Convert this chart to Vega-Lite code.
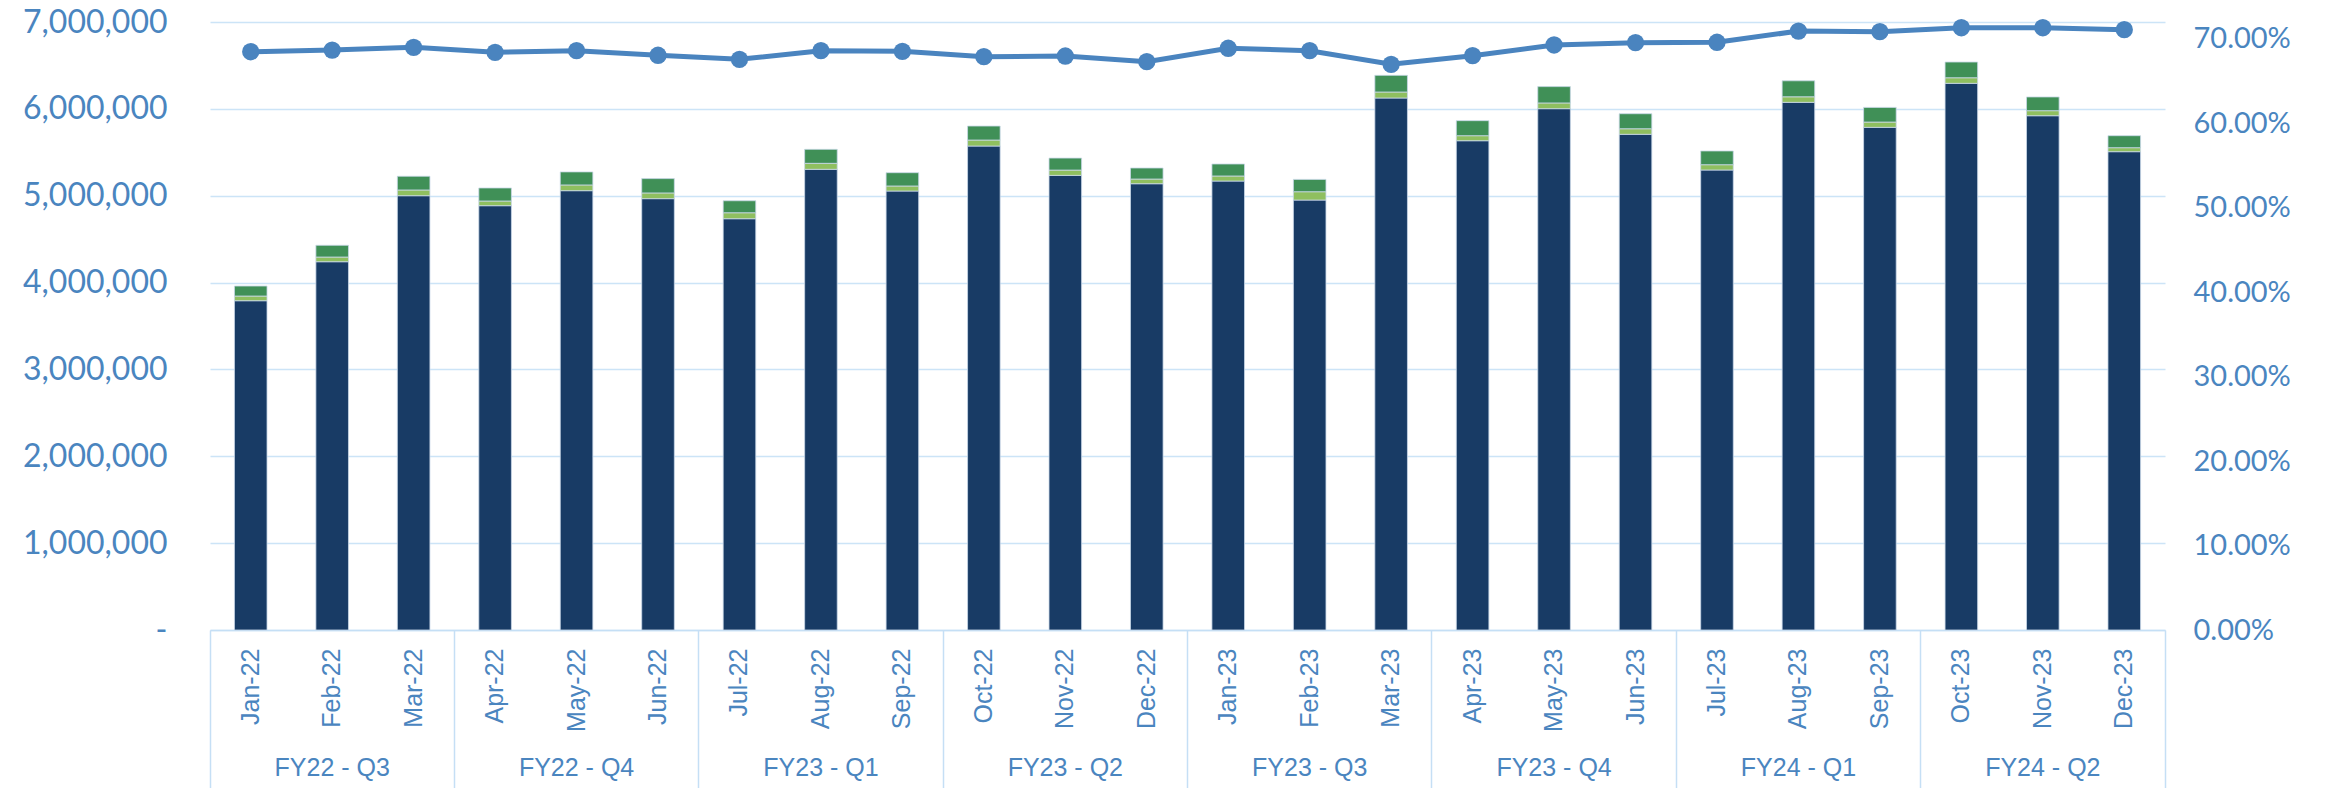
{
  "$schema": "https://vega.github.io/schema/vega-lite/v6.json",
  "width": 1955,
  "height": 608,
  "autosize": {"type": "none"},
  "padding": {"left": 210, "top": 22, "right": 164, "bottom": 158},
  "background": "white",
  "config": {"view": {"stroke": null}},
  "datasets": {
    "bars": [
      {"month": "Jan-22", "series": "Series 1", "value": 3791000}, {"month": "Jan-22", "series": "Series 2", "value": 54000}, {"month": "Jan-22", "series": "Series 3", "value": 115000},
      {"month": "Feb-22", "series": "Series 1", "value": 4240000}, {"month": "Feb-22", "series": "Series 2", "value": 54000}, {"month": "Feb-22", "series": "Series 3", "value": 135000},
      {"month": "Mar-22", "series": "Series 1", "value": 5000000}, {"month": "Mar-22", "series": "Series 2", "value": 66000}, {"month": "Mar-22", "series": "Series 3", "value": 158000},
      {"month": "Apr-22", "series": "Series 1", "value": 4885000}, {"month": "Apr-22", "series": "Series 2", "value": 54000}, {"month": "Apr-22", "series": "Series 3", "value": 150000},
      {"month": "May-22", "series": "Series 1", "value": 5058000}, {"month": "May-22", "series": "Series 2", "value": 66000}, {"month": "May-22", "series": "Series 3", "value": 150000},
      {"month": "Jun-22", "series": "Series 1", "value": 4966000}, {"month": "Jun-22", "series": "Series 2", "value": 66000}, {"month": "Jun-22", "series": "Series 3", "value": 165000},
      {"month": "Jul-22", "series": "Series 1", "value": 4735000}, {"month": "Jul-22", "series": "Series 2", "value": 69000}, {"month": "Jul-22", "series": "Series 3", "value": 138000},
      {"month": "Aug-22", "series": "Series 1", "value": 5304000}, {"month": "Aug-22", "series": "Series 2", "value": 69000}, {"month": "Aug-22", "series": "Series 3", "value": 161000},
      {"month": "Sep-22", "series": "Series 1", "value": 5054000}, {"month": "Sep-22", "series": "Series 2", "value": 58000}, {"month": "Sep-22", "series": "Series 3", "value": 153000},
      {"month": "Oct-22", "series": "Series 1", "value": 5572000}, {"month": "Oct-22", "series": "Series 2", "value": 69000}, {"month": "Oct-22", "series": "Series 3", "value": 161000},
      {"month": "Nov-22", "series": "Series 1", "value": 5234000}, {"month": "Nov-22", "series": "Series 2", "value": 61000}, {"month": "Nov-22", "series": "Series 3", "value": 138000},
      {"month": "Dec-22", "series": "Series 1", "value": 5138000}, {"month": "Dec-22", "series": "Series 2", "value": 54000}, {"month": "Dec-22", "series": "Series 3", "value": 127000},
      {"month": "Jan-23", "series": "Series 1", "value": 5169000}, {"month": "Jan-23", "series": "Series 2", "value": 58000}, {"month": "Jan-23", "series": "Series 3", "value": 138000},
      {"month": "Feb-23", "series": "Series 1", "value": 4950000}, {"month": "Feb-23", "series": "Series 2", "value": 96000}, {"month": "Feb-23", "series": "Series 3", "value": 142000},
      {"month": "Mar-23", "series": "Series 1", "value": 6125000}, {"month": "Mar-23", "series": "Series 2", "value": 69000}, {"month": "Mar-23", "series": "Series 3", "value": 192000},
      {"month": "Apr-23", "series": "Series 1", "value": 5633000}, {"month": "Apr-23", "series": "Series 2", "value": 58000}, {"month": "Apr-23", "series": "Series 3", "value": 173000},
      {"month": "May-23", "series": "Series 1", "value": 6002000}, {"month": "May-23", "series": "Series 2", "value": 66000}, {"month": "May-23", "series": "Series 3", "value": 188000},
      {"month": "Jun-23", "series": "Series 1", "value": 5707000}, {"month": "Jun-23", "series": "Series 2", "value": 64000}, {"month": "Jun-23", "series": "Series 3", "value": 173000},
      {"month": "Jul-23", "series": "Series 1", "value": 5296000}, {"month": "Jul-23", "series": "Series 2", "value": 61000}, {"month": "Jul-23", "series": "Series 3", "value": 158000},
      {"month": "Aug-23", "series": "Series 1", "value": 6075000}, {"month": "Aug-23", "series": "Series 2", "value": 64000}, {"month": "Aug-23", "series": "Series 3", "value": 184000},
      {"month": "Sep-23", "series": "Series 1", "value": 5787000}, {"month": "Sep-23", "series": "Series 2", "value": 61000}, {"month": "Sep-23", "series": "Series 3", "value": 169000},
      {"month": "Oct-23", "series": "Series 1", "value": 6294000}, {"month": "Oct-23", "series": "Series 2", "value": 64000}, {"month": "Oct-23", "series": "Series 3", "value": 181000},
      {"month": "Nov-23", "series": "Series 1", "value": 5921000}, {"month": "Nov-23", "series": "Series 2", "value": 58000}, {"month": "Nov-23", "series": "Series 3", "value": 158000},
      {"month": "Dec-23", "series": "Series 1", "value": 5507000}, {"month": "Dec-23", "series": "Series 2", "value": 46000}, {"month": "Dec-23", "series": "Series 3", "value": 138000}
    ],
    "rate": [
      {"month": "Jan-22", "quarter": "FY22 - Q3", "rate": 0.6848},
      {"month": "Feb-22", "quarter": "FY22 - Q3", "rate": 0.6868},
      {"month": "Mar-22", "quarter": "FY22 - Q3", "rate": 0.6900},
      {"month": "Apr-22", "quarter": "FY22 - Q4", "rate": 0.6841},
      {"month": "May-22", "quarter": "FY22 - Q4", "rate": 0.6860},
      {"month": "Jun-22", "quarter": "FY22 - Q4", "rate": 0.6806},
      {"month": "Jul-22", "quarter": "FY23 - Q1", "rate": 0.6758},
      {"month": "Aug-22", "quarter": "FY23 - Q1", "rate": 0.6860},
      {"month": "Sep-22", "quarter": "FY23 - Q1", "rate": 0.6853},
      {"month": "Oct-22", "quarter": "FY23 - Q2", "rate": 0.6789},
      {"month": "Nov-22", "quarter": "FY23 - Q2", "rate": 0.6797},
      {"month": "Dec-22", "quarter": "FY23 - Q2", "rate": 0.6730},
      {"month": "Jan-23", "quarter": "FY23 - Q3", "rate": 0.6889},
      {"month": "Feb-23", "quarter": "FY23 - Q3", "rate": 0.6860},
      {"month": "Mar-23", "quarter": "FY23 - Q3", "rate": 0.6699},
      {"month": "Apr-23", "quarter": "FY23 - Q4", "rate": 0.6801},
      {"month": "May-23", "quarter": "FY23 - Q4", "rate": 0.6928},
      {"month": "Jun-23", "quarter": "FY23 - Q4", "rate": 0.6955},
      {"month": "Jul-23", "quarter": "FY24 - Q1", "rate": 0.6960},
      {"month": "Aug-23", "quarter": "FY24 - Q1", "rate": 0.7093},
      {"month": "Sep-23", "quarter": "FY24 - Q1", "rate": 0.7085},
      {"month": "Oct-23", "quarter": "FY24 - Q2", "rate": 0.7132},
      {"month": "Nov-23", "quarter": "FY24 - Q2", "rate": 0.7132},
      {"month": "Dec-23", "quarter": "FY24 - Q2", "rate": 0.7109}
    ]
  },
  "layer": [
    {
      "layer": [
        {
          "data": {"name": "bars"},
          "mark": {"type": "bar", "stroke": "#C9D8E8", "strokeWidth": 0.8},
          "encoding": {
            "x": {
              "field": "month", "type": "nominal", "sort": null,
              "scale": {"type": "band", "paddingInner": 0.6, "paddingOuter": 0.3},
              "axis": {
                "orient": "bottom", "title": null, "domain": true, "domainColor": "#C5DFF5", "domainWidth": 1.5,
                "ticks": false, "grid": false, "labelAngle": -90, "labelPadding": 18,
                "labelFont": "Liberation Sans", "labelFontSize": 25, "labelColor": "#4A85BF"
              }
            },
            "y": {
              "field": "value", "type": "quantitative", "stack": "zero",
              "scale": {"domain": [0, 7000000], "nice": false, "zero": true},
              "axis": {
                "orient": "left", "title": null, "domain": false, "ticks": false,
                "grid": true, "gridColor": "#CCE4F7", "gridWidth": 1.5,
                "values": [0, 1000000, 2000000, 3000000, 4000000, 5000000, 6000000, 7000000],
                "labelExpr": "datum.value === 0 ? '-\u2003' : format(datum.value, ',')",
                "labelPadding": 43, "labelFont": "Lato", "labelFontSize": 32, "labelColor": "#4A85BF"
              }
            },
            "color": {
              "field": "series", "type": "nominal",
              "scale": {"domain": ["Series 1", "Series 2", "Series 3"], "range": ["#183B65", "#8FBF5F", "#409057"]},
              "legend": null
            },
            "order": {"field": "series", "type": "ordinal", "sort": "ascending"}
          }
        },
        {
          "data": {"name": "rate"},
          "mark": {"type": "line", "color": "#4A84BF", "strokeWidth": 5, "point": {"filled": true, "size": 300, "color": "#4A84BF"}},
          "encoding": {
            "x": {"field": "month", "type": "nominal", "sort": null, "scale": {"type": "band", "paddingInner": 0.6, "paddingOuter": 0.3}},
            "y": {
              "field": "rate", "type": "quantitative",
              "scale": {"domain": [0, 0.72], "nice": false, "zero": true},
              "axis": {
                "orient": "right", "title": null, "domain": false, "ticks": false, "grid": false,
                "values": [0, 0.1, 0.2, 0.3, 0.4, 0.5, 0.6, 0.7], "format": ".2%",
                "labelPadding": 28, "labelFont": "Lato", "labelFontSize": 29, "labelColor": "#4A85BF"
              }
            }
          }
        }
      ],
      "resolve": {"scale": {"y": "independent"}}
    },
    {
      "data": {"name": "rate"},
      "mark": {"type": "point", "opacity": 0},
      "encoding": {
        "x": {
          "field": "quarter", "type": "nominal", "sort": null,
          "scale": {"type": "band", "paddingInner": 0, "paddingOuter": 0},
          "axis": {
            "orient": "bottom", "title": null, "domain": false, "grid": false,
            "ticks": true, "tickSize": 158, "tickColor": "#C5DFF5", "tickWidth": 1.5, "bandPosition": 0,
            "labelAngle": 0, "labelPadding": -33, "labelBaseline": "top",
            "labelFont": "Liberation Sans", "labelFontSize": 25, "labelColor": "#4A85BF"
          }
        }
      }
    },
    {
      "data": {"name": "rate"},
      "mark": {"type": "point", "opacity": 0},
      "encoding": {
        "x": {
          "field": "quarter", "type": "nominal", "sort": null,
          "scale": {"type": "band", "paddingInner": 0, "paddingOuter": 0},
          "axis": {
            "orient": "bottom", "title": null, "domain": false, "grid": false, "labels": false,
            "values": ["FY24 - Q2"],
            "ticks": true, "tickSize": 158, "tickColor": "#C5DFF5", "tickWidth": 1.5, "bandPosition": 1
          }
        }
      }
    }
  ],
  "resolve": {"scale": {"x": "independent"}}
}
